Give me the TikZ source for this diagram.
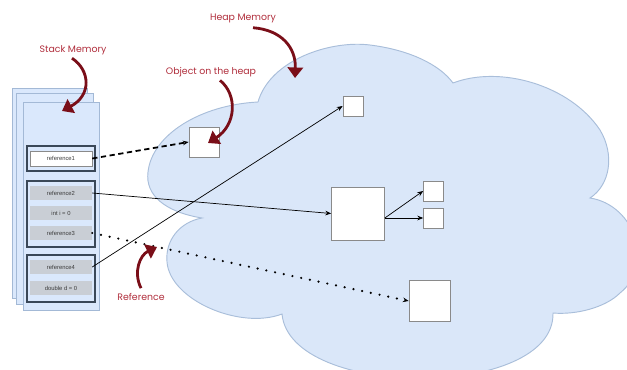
\documentclass[tikz,border=0pt]{standalone}
\usepackage{fontspec}
\setmainfont{Liberation Sans}
\newfontfamily\notefont{Poppins}
\usetikzlibrary{arrows.meta}
\definecolor{heapfill}{HTML}{DAE7F9}
\definecolor{heapline}{HTML}{A9BEDA}
\definecolor{stackfill}{HTML}{DAE8FC}
\definecolor{stackline}{HTML}{A3B9D6}
\definecolor{groupline}{HTML}{3A4858}
\definecolor{slotfill}{HTML}{C9CED5}
\definecolor{slottext}{HTML}{3C3C3C}
\definecolor{objline}{HTML}{8A8A8A}
\definecolor{notetext}{HTML}{B02E3C}
\definecolor{maroon}{HTML}{7A0E18}
\tikzset{
    every node/.style={inner sep=0mm},
    obj/.style={rectangle, draw=objline, fill=white, line width=0.6pt},
    slot/.style={rectangle, fill=slotfill, minimum width=1.86cm, minimum height=0.42cm,
        font=\fontsize{5}{6}\selectfont, text=slottext},
    group/.style={rectangle, draw=groupline, line width=1pt, minimum width=2.04cm},
    note/.style={font=\notefont\fontsize{8}{9}\selectfont, text=notetext},
    link/.style={-{Stealth[length=5pt,width=4pt]}, line width=0.6pt},
    pointer/.style={-{Triangle[length=9pt,width=13pt]}, line width=2.4pt, draw=maroon}
}
\begin{document}
\begin{tikzpicture}[x=0.03cm, y=-0.03cm]
    \useasboundingbox (0,0) rectangle (627,369);

    % heap cloud
    \begin{scope}
        \clip (0,0) rectangle (627,369);
        \filldraw[fill=heapfill, draw=heapline, line width=0.8pt]
            (202,218) .. controls (165,212) and (145,195) .. (148,172)
            .. controls (152,135) and (200,105) .. (258,102)
            .. controls (270,60) and (330,40) .. (370,45)
            .. controls (410,50) and (440,65) .. (453,83)
            .. controls (500,65) and (570,85) .. (600,130)
            .. controls (615,155) and (610,185) .. (590,198)
            .. controls (635,205) and (655,265) .. (620,293)
            .. controls (605,308) and (575,315) .. (553,313)
            .. controls (555,400) and (290,400) .. (282,314)
            .. controls (240,330) and (170,300) .. (167,262)
            .. controls (165,240) and (180,222) .. (202,218) -- cycle;
    \end{scope}

    % stack frames
    \filldraw[fill=stackfill, draw=stackline, line width=0.6pt] (12,88) rectangle (87,298);
    \filldraw[fill=stackfill, draw=stackline, line width=0.6pt] (16,93) rectangle (93,304);
    \filldraw[fill=stackfill, draw=stackline, line width=0.6pt] (23,102) rectangle (99,310);

    \node (g1) [group, minimum height=0.75cm] at (61,158.5) {};
    \node (g2) [group, minimum height=1.98cm] at (61,214) {};
    \node (g3) [group, minimum height=1.41cm] at (61,278.5) {};

    \node (ref1) [slot, fill=white, draw=objline, line width=0.4pt, minimum height=0.45cm] at (61,158.5) {reference1};
    \node (ref2) [slot] at (61,193) {reference2};
    \node (inti) [slot] at (61,213) {int i = 0};
    \node (ref3) [slot] at (61,233) {reference3};
    \node (ref4) [slot] at (61,267) {reference4};
    \node (dbld) [slot] at (61,288) {double d = 0};

    % objects on the heap
    \node (obj1) [obj, minimum size=0.9cm] at (204,142) {};
    \node (obj2) [obj, minimum size=0.6cm] at (353,106) {};
    \node (obj3) [obj, minimum size=1.59cm] at (358,213.5) {};
    \node (obj4) [obj, minimum size=0.6cm] at (433.5,191) {};
    \node (obj5) [obj, minimum size=0.6cm] at (433.5,218) {};
    \node (obj6) [obj, minimum size=1.23cm] at (429.5,301) {};
    \coordinate (split) at (obj3.east |- obj5.west);

    \draw[link, line width=1.5pt, dash pattern=on 4.5pt off 3pt] (ref1.east) -- (obj1.west);
    \draw[link] (ref2.east) -- (obj3.west);
    \draw[link] (ref4.east) -- (obj2.west);
    \draw[link, line width=2.1pt, line cap=round, dash pattern=on 0pt off 7.6pt] (ref3.east) -- (obj6.west);
    \draw[link] (split) -- (obj4.west);
    \draw[link] (split) -- (obj5.west);

    % labels
    \node (stacklbl) [note] at (73,50) {Stack Memory};
    \node (heaplbl) [note] at (243,18) {Heap Memory};
    \node (objlbl) [note] at (211,72) {Object on the heap};
    \node (reflbl) [note] at (141,297) {Reference};

    \coordinate (stacktip) at (62,111);
    \coordinate (heaptip) at (295,78);
    \coordinate (objtip) at (208,143);
    \coordinate (reftip) at (157,247);

    \draw[pointer] ([xshift=-0.03cm, yshift=-0.1cm]stacklbl.south) .. controls (90,70) and (92,95) .. (stacktip);
    \draw[pointer] ([xshift=0.3cm, yshift=-0.15cm]heaplbl.south) .. controls (282,30) and (296,48) .. (heaptip);
    \draw[pointer] ([xshift=0.27cm, yshift=-0.1cm]objlbl.south) .. controls (238,95) and (236,125) .. (objtip);
    \draw[pointer] ([yshift=0.15cm]reflbl.north) .. controls (133,272) and (140,255) .. (reftip);
\end{tikzpicture}
\end{document}
